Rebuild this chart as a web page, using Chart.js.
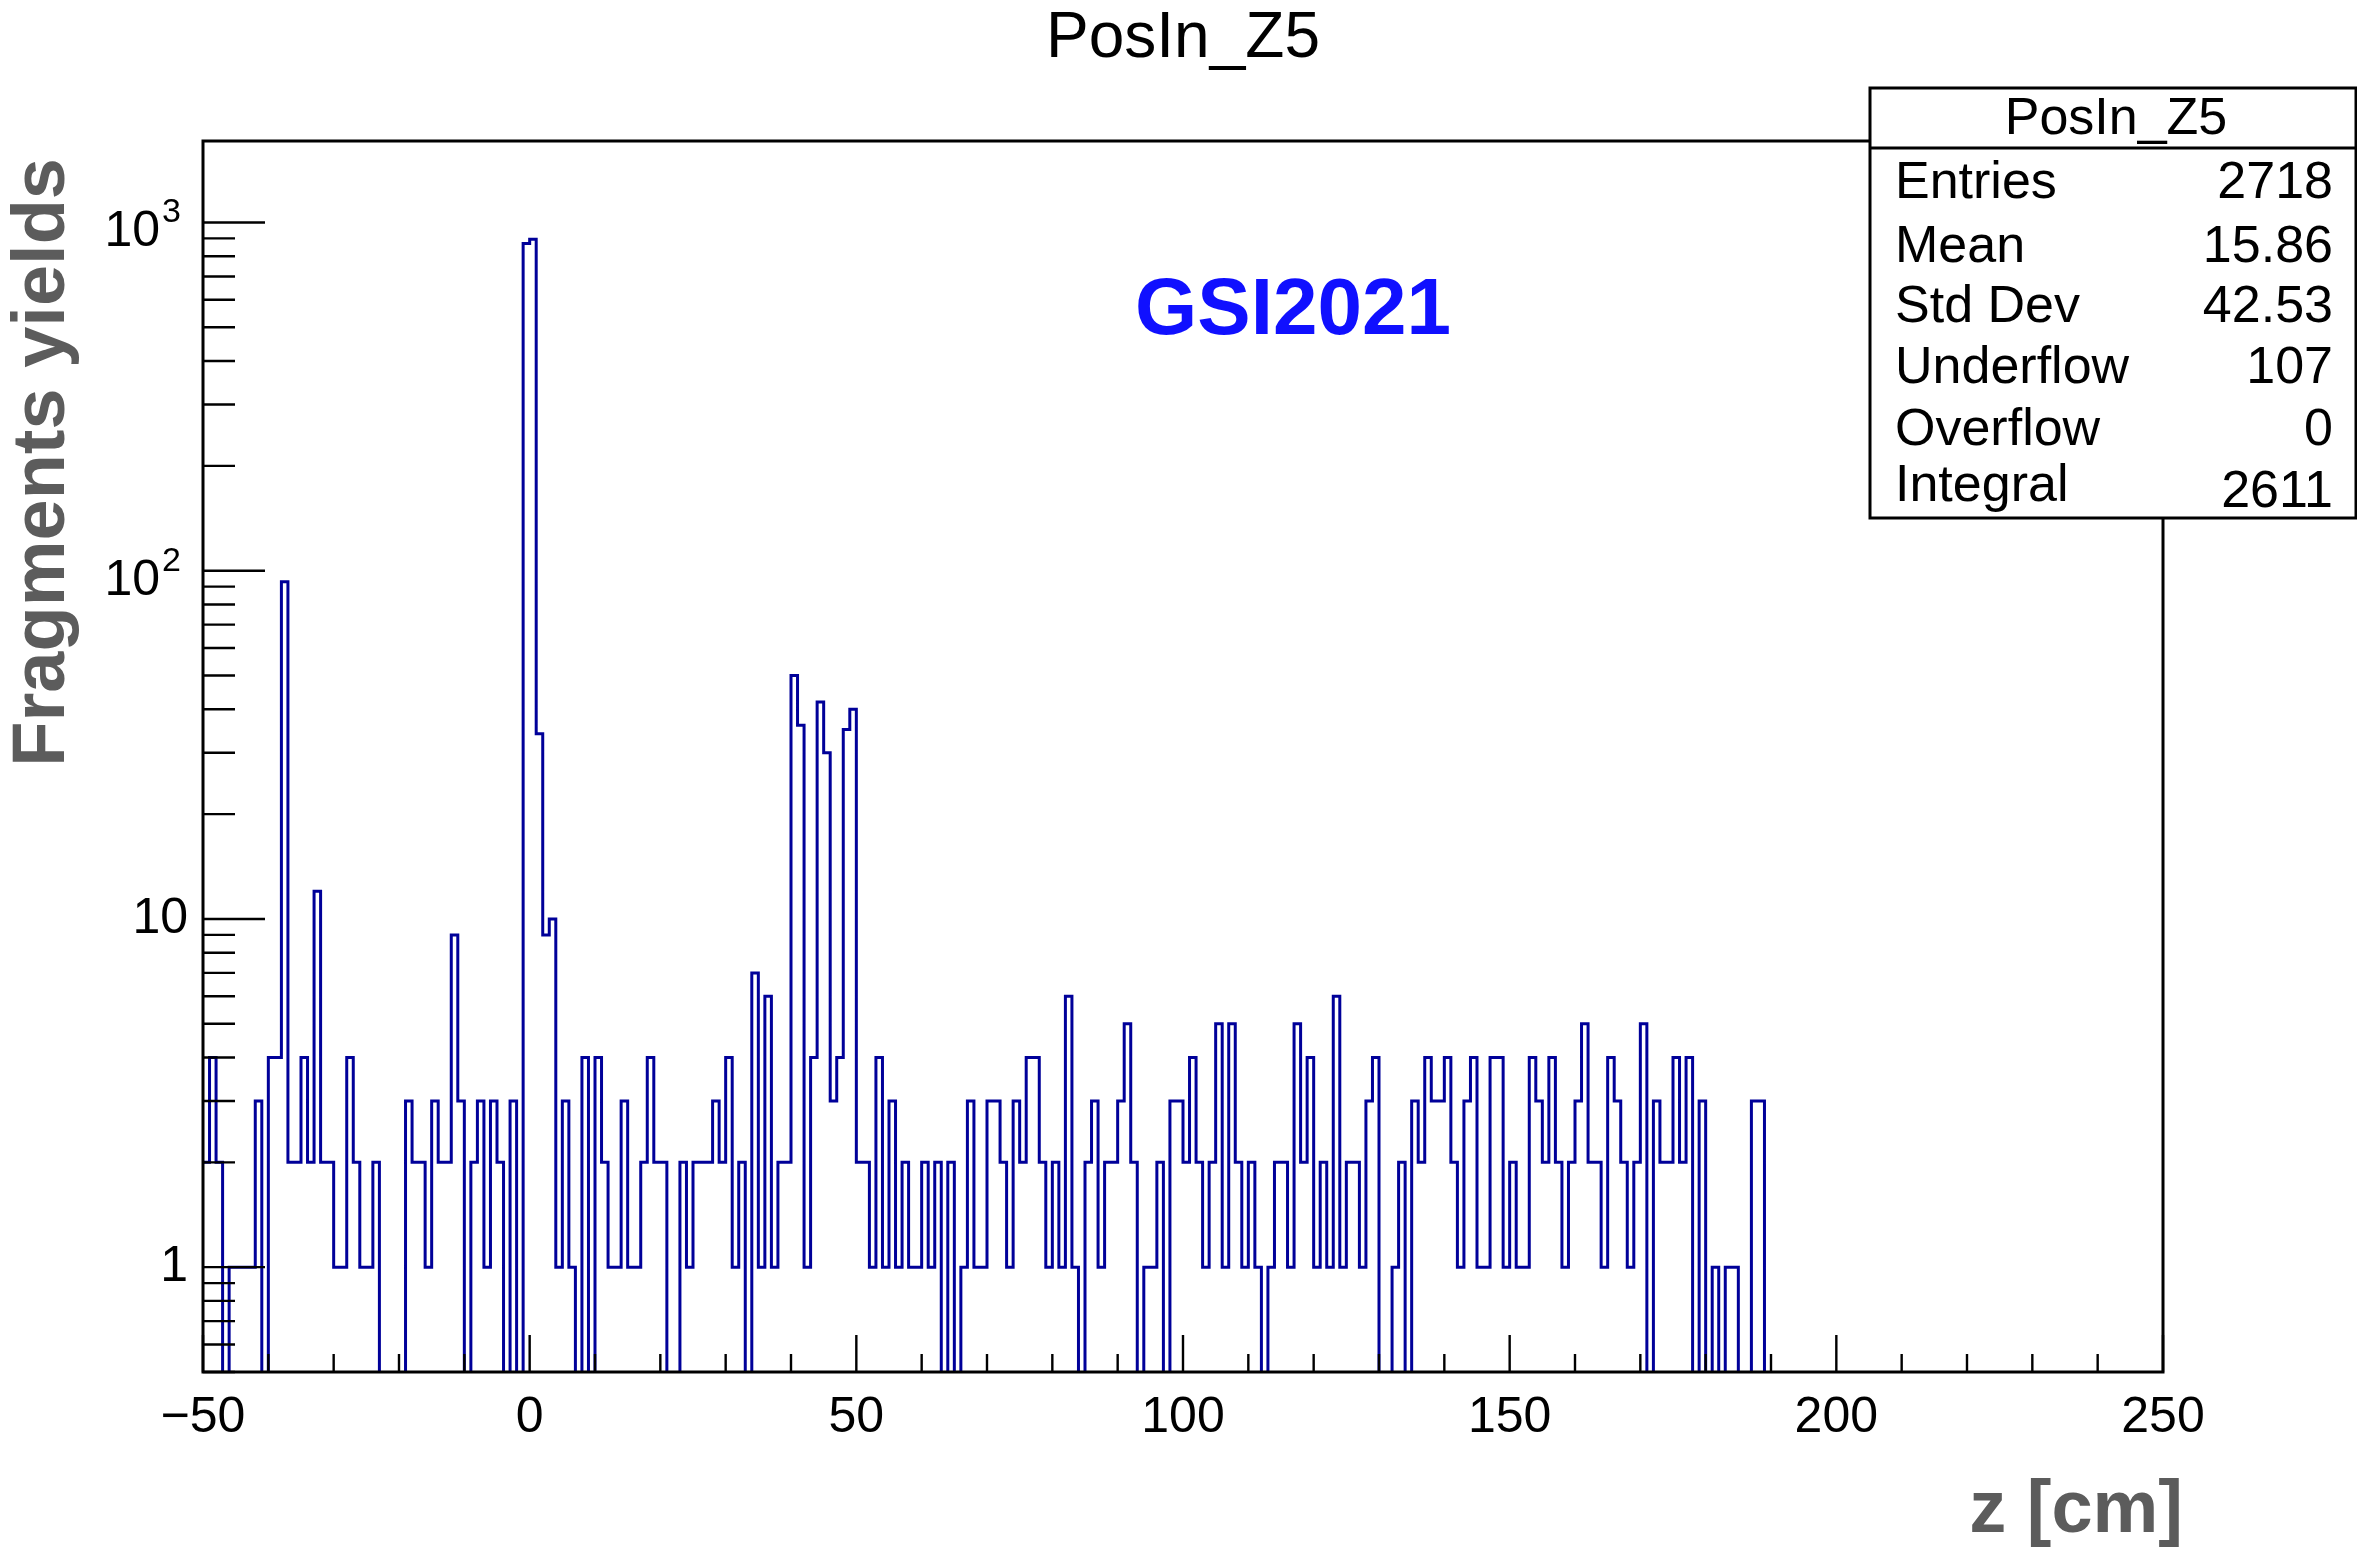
<!DOCTYPE html>
<html>
<head>
<meta charset="utf-8">
<title>PosIn_Z5</title>
<script src="https://cdn.jsdelivr.net/npm/chart.js@4.4.1/dist/chart.umd.min.js"></script>
<style>
  html, body { margin: 0; padding: 0; background: #ffffff; }
</style>
</head>
<body>
<canvas id="histChart" width="2357" height="1547"></canvas>
<script>
// PosIn_Z5 histogram, 1 cm bins starting at z = -50 cm
const binStart = -50;
const binWidth = 1;
const counts = [
    2, 4, 2, 0, 1, 1, 1, 1, 3, 0,        // -50 .. -41
    4, 4, 93, 2, 2, 4, 2, 12, 2, 2,      // -40 .. -31
    1, 1, 4, 2, 1, 1, 2, 0, 0, 0,        // -30 .. -21
    0, 3, 2, 2, 1, 3, 2, 2, 9, 3,        // -20 .. -11
    0, 2, 3, 1, 3, 2, 0, 3, 0, 870,      // -10 .. -1
    895, 34, 9, 10, 1, 3, 1, 0, 4, 0,    // 0 .. 9
    4, 2, 1, 1, 3, 1, 1, 2, 4, 2,        // 10 .. 19
    2, 0, 0, 2, 1, 2, 2, 2, 3, 2,        // 20 .. 29
    4, 1, 2, 0, 7, 1, 6, 1, 2, 2,        // 30 .. 39
    50, 36, 1, 4, 42, 30, 3, 4, 35, 40,  // 40 .. 49
    2, 2, 1, 4, 1, 3, 1, 2, 1, 1,        // 50 .. 59
    2, 1, 2, 0, 2, 0, 1, 3, 1, 1,        // 60 .. 69
    3, 3, 2, 1, 3, 2, 4, 4, 2, 1,        // 70 .. 79
    2, 1, 6, 1, 0, 2, 3, 1, 2, 2,        // 80 .. 89
    3, 5, 2, 0, 1, 1, 2, 0, 3, 3,        // 90 .. 99
    2, 4, 2, 1, 2, 5, 1, 5, 2, 1,        // 100 .. 109
    2, 1, 0, 1, 2, 2, 1, 5, 2, 4,        // 110 .. 119
    1, 2, 1, 6, 1, 2, 2, 1, 3, 4,        // 120 .. 129
    0, 0, 1, 2, 0, 3, 2, 4, 3, 3,        // 130 .. 139
    4, 2, 1, 3, 4, 1, 1, 4, 4, 1,        // 140 .. 149
    2, 1, 1, 4, 3, 2, 4, 2, 1, 2,        // 150 .. 159
    3, 5, 2, 2, 1, 4, 3, 2, 1, 2,        // 160 .. 169
    5, 0, 3, 2, 2, 4, 2, 4, 0, 3,        // 170 .. 179
    0, 1, 0, 1, 1, 0, 0, 3, 3, 0         // 180 .. 189
];

// axis ticks
const xTicks = [-50, -40, -30, -20, -10, 0, 10, 20, 30, 40, 50, 60, 70, 80, 90, 100,
    110, 120, 130, 140, 150, 160, 170, 180, 190, 200, 210, 220, 230, 240, 250];
const xLabels = { '-50': '\u221250', '0': '0', '50': '50', '100': '100', '150': '150', '200': '200', '250': '250' };
const yTicks = [0.5, 0.6, 0.7, 0.8, 0.9, 1, 2, 3, 4, 5, 6, 7, 8, 9,
    10, 20, 30, 40, 50, 60, 70, 80, 90, 100, 200, 300, 400, 500, 600, 700, 800, 900, 1000];
const yMajor = [1, 10, 100, 1000];
const yLabels = { '1': '1', '10': '10' };
const yPowerLabels = { '100': '2', '1000': '3' };   // drawn as 10^n

// stats box
const statNames = ['Entries', 'Mean', 'Std Dev', 'Underflow', 'Overflow', 'Integral'];
const statValues = ['2718', '15.86', '42.53', '107', '0', '2611'];

const FONT = '"Liberation Sans", Arial, Helvetica, sans-serif';
// empty bins can't sit on a log axis, push them below the frame (clipped)
const emptyBinLevel = 0.05;

// ROOT-like frame, inward ticks, titles and stats box
const rootStyle = {
    id: 'rootStyle',
    afterDraw(chart) {
        const ctx = chart.ctx;
        const area = chart.chartArea;
        const xs = chart.scales.x;
        const ys = chart.scales.y;
        ctx.save();

        // ticks pointing inside
        ctx.strokeStyle = '#000';
        ctx.lineWidth = 2.4;
        ctx.beginPath();
        xTicks.forEach(v => {
            const px = xs.getPixelForValue(v);
            const len = (v % 50 === 0) ? 37 : 18;
            ctx.moveTo(px, area.bottom);
            ctx.lineTo(px, area.bottom - len);
        });
        yTicks.forEach(v => {
            const py = ys.getPixelForValue(v);
            const len = yMajor.includes(v) ? 62 : 32;
            ctx.moveTo(area.left, py);
            ctx.lineTo(area.left + len, py);
        });
        ctx.stroke();

        // frame
        ctx.lineWidth = 3;
        ctx.strokeRect(area.left, area.top, area.right - area.left, area.bottom - area.top);

        // 10^n labels on the y axis
        ctx.fillStyle = '#000';
        ctx.textBaseline = 'alphabetic';
        Object.keys(yPowerLabels).forEach(k => {
            const py = ys.getPixelForValue(Number(k));
            ctx.font = '50px ' + FONT;
            ctx.textAlign = 'right';
            ctx.fillText('10', 160, py + 24);
            ctx.font = '34px ' + FONT;
            ctx.textAlign = 'left';
            ctx.fillText(yPowerLabels[k], 162, py);
        });

        // main title
        ctx.font = '64px ' + FONT;
        ctx.textAlign = 'center';
        ctx.fillText('PosIn_Z5', 1183, 57);

        // tag
        ctx.fillStyle = '#1010ff';
        ctx.font = 'bold 80px ' + FONT;
        ctx.fillText('GSI2021', 1293, 334);

        // axis titles
        ctx.fillStyle = '#5c5c5c';
        ctx.font = 'bold 74px ' + FONT;
        ctx.textAlign = 'right';
        ctx.fillText('z [cm]', 2183, 1532);
        ctx.save();
        ctx.translate(64, 158);
        ctx.rotate(-Math.PI / 2);
        ctx.fillText('Fragments yields', 0, 0);
        ctx.restore();

        // stats box
        const bx = 1870, by = 88, bw = 486, bh = 430;
        ctx.fillStyle = '#fff';
        ctx.fillRect(bx, by, bw, bh);
        ctx.strokeStyle = '#000';
        ctx.lineWidth = 3;
        ctx.strokeRect(bx, by, bw, bh);
        ctx.beginPath();
        ctx.moveTo(bx, 148);
        ctx.lineTo(bx + bw, 148);
        ctx.stroke();

        ctx.fillStyle = '#000';
        ctx.font = '52px ' + FONT;
        ctx.textAlign = 'center';
        ctx.fillText('PosIn_Z5', 2116, 134);
        const rowBase = [198, 262, 322, 383, 445, 501];
        statNames.forEach((name, i) => {
            ctx.textAlign = 'left';
            ctx.fillText(name, 1895, rowBase[i]);
            ctx.textAlign = 'right';
            ctx.fillText(statValues[i], 2333, i === 5 ? rowBase[i] + 6 : rowBase[i]);
        });

        ctx.restore();
    }
};

document.addEventListener('DOMContentLoaded', function() {
    const points = counts.map((c, i) => ({ x: binStart + i * binWidth, y: c > 0 ? c : emptyBinLevel }));
    points.push({ x: binStart + counts.length * binWidth, y: emptyBinLevel });

    const ctx = document.getElementById('histChart').getContext('2d');
    new Chart(ctx, {
        type: 'line',
        data: {
            datasets: [{
                label: 'PosIn_Z5',
                data: points,
                borderColor: '#000099',
                borderWidth: 3,
                pointRadius: 0,
                stepped: 'before',
                fill: false,
                clip: 0
            }]
        },
        options: {
            responsive: false,
            animation: false,
            layout: {
                padding: { left: 0, top: 141, right: 194, bottom: 0 }
            },
            plugins: {
                legend: { display: false },
                tooltip: { enabled: false }
            },
            scales: {
                x: {
                    type: 'linear',
                    min: -50,
                    max: 250,
                    afterBuildTicks: function(scale) {
                        scale.ticks = xTicks.map(v => ({ value: v }));
                    },
                    afterFit: function(scale) {
                        scale.height = 175;
                    },
                    ticks: {
                        autoSkip: false,
                        maxRotation: 0,
                        padding: 16,
                        color: '#000',
                        font: { family: FONT, size: 50 },
                        callback: function(value) {
                            const s = xLabels[String(value)];
                            return s === undefined ? '' : s;
                        }
                    },
                    grid: { display: false, drawTicks: false },
                    border: { display: false }
                },
                y: {
                    type: 'logarithmic',
                    min: 0.5,
                    max: 1714,
                    afterBuildTicks: function(scale) {
                        scale.ticks = yTicks.map(v => ({ value: v }));
                    },
                    afterFit: function(scale) {
                        scale.width = 203;
                    },
                    ticks: {
                        autoSkip: false,
                        padding: 15,
                        color: '#000',
                        font: { family: FONT, size: 50 },
                        callback: function(value) {
                            const s = yLabels[String(value)];
                            return s === undefined ? '' : s;
                        }
                    },
                    grid: { display: false, drawTicks: false },
                    border: { display: false }
                }
            }
        },
        plugins: [rootStyle]
    });
});
</script>
</body>
</html>
